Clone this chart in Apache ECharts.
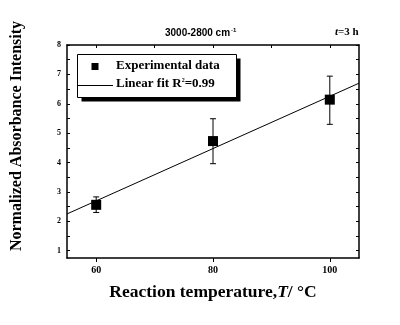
<!DOCTYPE html>
<html>
<head>
<meta charset="utf-8">
<script src="https://cdn.jsdelivr.net/npm/echarts@6/dist/echarts.min.js"></script>
<style>
  html, body { margin: 0; padding: 0; background: #fff; }
  #chart { width: 400px; height: 325px; }
</style>
</head>
<body>
<div id="chart"></div>
<script>
// Reaction temperature (°C) and normalized absorbance intensity (3000-2800 cm-1 band)
const temperatures = [60, 80, 100];
const intensity = [2.56, 4.73, 6.14];
const errLow = [2.30, 3.96, 5.30];
const errHigh = [2.83, 5.49, 6.94];

// Linear fit endpoints across the axis range
const fitX = [55, 105];
const fitY = [2.25, 6.70];

// Axis ranges and tick positions
const xRange = [55, 105];
const yRange = [0.75, 8];
const xLabelTicks = [60, 80, 100];
const xTopTicks = [60, 70, 80, 90, 100];
const yLabelTicks = [1, 2, 3, 4, 5, 6, 7, 8];
const yMinorTicks = [1, 1.5, 2, 2.5, 3, 3.5, 4, 4.5, 5, 5.5, 6, 6.5, 7, 7.5, 8];

const serif = '"Liberation Serif", "DejaVu Serif", serif';
const sans = '"Liberation Sans", "DejaVu Sans", sans-serif';

const chart = echarts.init(document.getElementById('chart'), null, { renderer: 'canvas' });

const axisLine = { show: true, lineStyle: { color: '#000', width: 1.5 } };

const option = {
  backgroundColor: '#fff',
  animation: false,
  grid: { left: 67, right: 41, top: 45, bottom: 67 },
  xAxis: [
    {
      type: 'value', position: 'bottom', min: xRange[0], max: xRange[1],
      axisLine: axisLine,
      axisTick: { show: true, inside: false, length: 4, customValues: xLabelTicks, lineStyle: { color: '#000' } },
      axisLabel: { customValues: xLabelTicks, color: '#000', fontFamily: serif, fontWeight: 'bold', fontSize: 10, margin: 7 },
      splitLine: { show: false },
      name: '{b|Reaction temperature,}{i|T}{b|/ °C}',
      nameLocation: 'middle', nameGap: 25,
      nameTextStyle: {
        rich: {
          b: { fontFamily: serif, fontWeight: 'bold', fontSize: 17.5, color: '#000' },
          i: { fontFamily: serif, fontWeight: 'bold', fontStyle: 'italic', fontSize: 17.5, color: '#000' }
        }
      }
    },
    {
      type: 'value', position: 'top', min: xRange[0], max: xRange[1],
      axisLine: axisLine,
      axisTick: { show: true, inside: true, length: 3, customValues: xTopTicks, lineStyle: { color: '#000' } },
      axisLabel: { show: false },
      splitLine: { show: false }
    }
  ],
  yAxis: [
    {
      type: 'value', position: 'left', min: yRange[0], max: yRange[1],
      axisLine: axisLine,
      axisTick: { show: true, inside: true, length: 3, customValues: yMinorTicks, lineStyle: { color: '#000' } },
      axisLabel: { customValues: yLabelTicks, color: '#000', fontFamily: serif, fontWeight: 'bold', fontSize: 8, margin: 6 },
      splitLine: { show: false }
    },
    {
      type: 'value', position: 'right', min: yRange[0], max: yRange[1],
      axisLine: axisLine,
      axisTick: { show: true, inside: true, length: 3, customValues: yMinorTicks, lineStyle: { color: '#000' } },
      axisLabel: { show: false },
      splitLine: { show: false }
    }
  ],
  graphic: [
    // vertical axis title
    {
      type: 'text', x: 17, y: 136, rotation: Math.PI / 2,
      style: {
        text: 'Normalized Absorbance Intensity',
        fontFamily: serif, fontWeight: 'bold', fontSize: 16, fill: '#000',
        align: 'center', verticalAlign: 'middle'
      }
    },
    {
      type: 'text', left: 165, top: 27,
      style: {
        text: '{a|3000-2800 cm}{s|-1}',
        rich: {
          a: { fontFamily: sans, fontWeight: 'bold', fontSize: 10, fill: '#000', verticalAlign: 'bottom' },
          s: { fontFamily: sans, fontWeight: 'bold', fontSize: 6, fill: '#000', verticalAlign: 'top', padding: [0, 0, 5, 1] }
        }
      }
    },
    {
      type: 'text', left: 335, top: 27,
      style: {
        text: '{i|t}{a|=3 h}',
        rich: {
          i: { fontFamily: serif, fontWeight: 'bold', fontStyle: 'italic', fontSize: 11, fill: '#000' },
          a: { fontFamily: serif, fontWeight: 'bold', fontSize: 11, fill: '#000' }
        }
      }
    },
    // legend frame: solid offset shadow, then white box with border
    {
      type: 'rect', z: 10,
      shape: { x: 81.5, y: 58.5, width: 159, height: 43 },
      style: { fill: '#000' }
    },
    {
      type: 'rect', z: 11,
      shape: { x: 77.5, y: 54.5, width: 159, height: 43 },
      style: { fill: '#fff', stroke: '#000', lineWidth: 1 }
    },
    {
      type: 'rect', z: 12,
      shape: { x: 91.5, y: 63, width: 7, height: 7 },
      style: { fill: '#000' }
    },
    {
      type: 'text', z: 12, left: 116, top: 59,
      style: { text: 'Experimental data', fontFamily: serif, fontWeight: 'bold', fontSize: 13, fill: '#000' }
    },
    {
      type: 'line', z: 12,
      shape: { x1: 78, y1: 85.5, x2: 113, y2: 85.5 },
      style: { stroke: '#000', lineWidth: 1 }
    },
    {
      type: 'text', z: 12, left: 116, top: 77,
      style: {
        text: '{a|Linear fit R}{s|2}{a|=0.99}',
        rich: {
          a: { fontFamily: serif, fontWeight: 'bold', fontSize: 13, fill: '#000', verticalAlign: 'bottom' },
          s: { fontFamily: serif, fontWeight: 'bold', fontSize: 6, fill: '#000', verticalAlign: 'top', padding: [0, 0, 7, 0] }
        }
      }
    }
  ],
  series: [
    {
      name: 'Linear fit',
      type: 'line',
      xAxisIndex: 0, yAxisIndex: 0,
      data: fitX.map((x, i) => [x, fitY[i]]),
      symbol: 'none',
      lineStyle: { color: '#000', width: 1 },
      z: 2
    },
    {
      name: 'Error',
      type: 'custom',
      xAxisIndex: 0, yAxisIndex: 0,
      data: temperatures.map((t, i) => [t, errLow[i], errHigh[i]]),
      renderItem: function (params, api) {
        const lo = api.coord([api.value(0), api.value(1)]);
        const hi = api.coord([api.value(0), api.value(2)]);
        const w = 3;
        const line = (x1, y1, x2, y2) => ({
          type: 'line',
          shape: { x1: x1, y1: y1, x2: x2, y2: y2 },
          style: { stroke: '#000', lineWidth: 1 }
        });
        return {
          type: 'group',
          children: [
            line(hi[0], hi[1], lo[0], lo[1]),
            line(hi[0] - w, hi[1], hi[0] + w, hi[1]),
            line(lo[0] - w, lo[1], lo[0] + w, lo[1])
          ]
        };
      },
      z: 3
    },
    {
      name: 'Experimental data',
      type: 'scatter',
      xAxisIndex: 0, yAxisIndex: 0,
      data: temperatures.map((t, i) => [t, intensity[i]]),
      symbol: 'rect',
      symbolSize: 10,
      itemStyle: { color: '#000', opacity: 1 },
      emphasis: { disabled: true },
      z: 4
    }
  ]
};

chart.setOption(option);
</script>
</body>
</html>
